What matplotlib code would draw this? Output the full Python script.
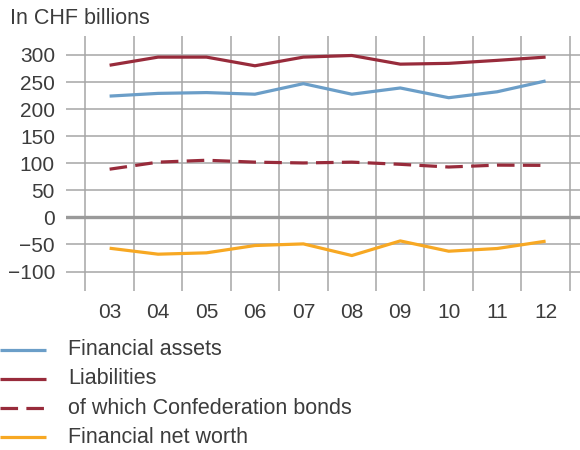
import matplotlib.pyplot as plt
from matplotlib.lines import Line2D
import numpy as np

plt.rcParams['font.family'] = ['Liberation Sans', 'DejaVu Sans']

years = ['03', '04', '05', '06', '07', '08', '09', '10', '11', '12']
financial_assets = [224, 229, 230.5, 227.5, 247, 227.5, 239, 221, 232, 252]
liabilities = [281, 296, 296, 280, 296, 299, 283, 284.5, 290, 296]
confederation_bonds = [89, 102, 105.5, 102, 100.5, 102, 98, 93, 96.5, 96]
net_worth = [-57, -68, -65.5, -52, -49, -70.5, -43.5, -62.5, -57.5, -44]

text_col = '#3c3c3c'
grid_col = '#a6a6a6'

series = [
    ('Financial assets', financial_assets, '#6b9ec8', '-'),
    ('Liabilities', liabilities, '#982b3b', '-'),
    ('of which Confederation bonds', confederation_bonds, '#982b3b', '--'),
    ('Financial net worth', net_worth, '#f7a823', '-'),
]

W, H = 580, 450
fig = plt.figure(figsize=(W / 100, H / 100), dpi=100)
ax = fig.add_axes([66 / W, (H - 291) / H, (W - 66) / W, (291 - 36) / H])

x = np.arange(len(years))
for label, vals, col, ls in series:
    line, = ax.plot(x, vals, color=col, lw=2.3, ls=ls, solid_capstyle='butt', zorder=3)
    if ls == '--':
        line.set_dashes((5.5, 2.6))

ax.set_xlim(-0.9, 9.71)
ax.set_ylim(-136, 335)

ax.set_yticks(np.arange(-100, 301, 50))
ax.set_xticks(x)
ax.set_xticklabels(years)
ax.set_xticks(np.arange(-0.5, 10, 1), minor=True)

ax.grid(True, which='major', axis='y', color=grid_col, lw=1.1, zorder=1)
ax.grid(True, which='minor', axis='x', color=grid_col, lw=1.1, zorder=1)
ax.axhline(0, color='#9a9a9a', lw=2.4, zorder=2)

ax.tick_params(which='both', length=0, labelsize=15, labelcolor=text_col)
ax.tick_params(axis='y', pad=8)
ax.tick_params(axis='x', pad=9)
for s in ax.spines.values():
    s.set_visible(False)

fig.text(10 / W, 1 - 18 / H, 'In CHF billions', fontsize=15.5, color=text_col,
         ha='left', va='center')

# legend rows below the plot
for i, (label, vals, col, ls) in enumerate(series):
    yy = 1 - (349.5 + i * 29.3) / H
    h = Line2D([0, 46 / W], [yy, yy], transform=fig.transFigure, color=col, lw=2.3,
               ls=ls, solid_capstyle='butt')
    if ls == '--':
        h.set_dashes((5.5, 2.6))
    fig.add_artist(h)
    fig.text(68 / W, yy, label, fontsize=15.5, color=text_col, ha='left', va='center')

fig.savefig('out.png', dpi=100)
